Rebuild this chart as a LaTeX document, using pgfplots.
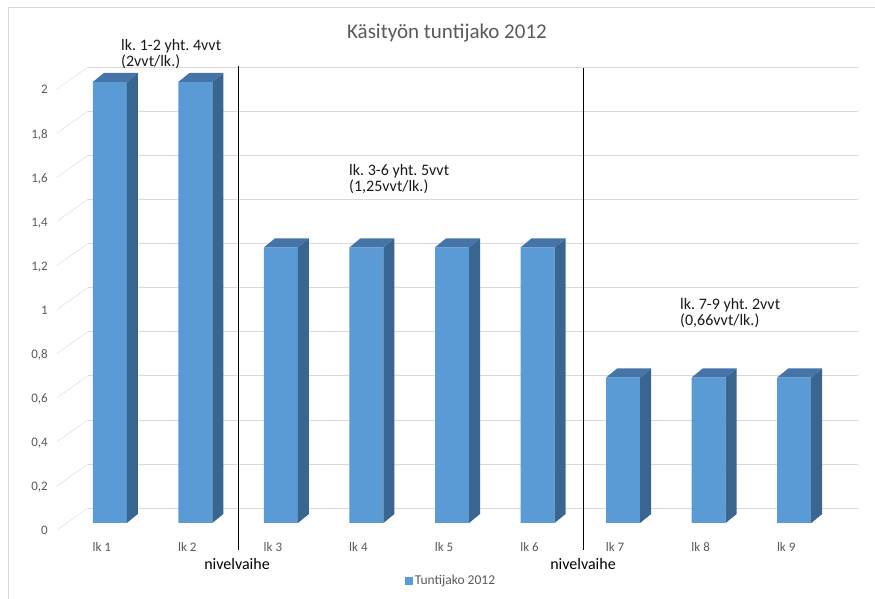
\documentclass[border=0pt]{standalone}
\usepackage{fontspec}
\setmainfont{Carlito}
\usepackage{pgfplots}
\pgfplotsset{compat=1.18}

\definecolor{barfront}{HTML}{5B9BD5}
\definecolor{barside}{HTML}{386690}
\definecolor{bartop}{HTML}{4575A8}
\definecolor{gridc}{HTML}{D9D9D9}
\definecolor{txt}{HTML}{595959}

% side and top face of a 3d column, drawn at the top of each bar
% (\rawy is the bar value, 220.5pt is one unit on the y axis)
\pgfdeclareplotmark{colside}{%
  \pgfmathsetmacro\h{\rawy*220.5}%
  \pgfsetfillcolor{barside}%
  \pgfpathmoveto{\pgfpoint{17pt}{0pt}}%
  \pgfpathlineto{\pgfpoint{28pt}{9pt}}%
  \pgfpathlineto{\pgfpoint{28pt}{9pt-\h pt}}%
  \pgfpathlineto{\pgfpoint{17pt}{-\h pt}}%
  \pgfpathclose
  \pgfusepath{fill}%
  \pgfsetfillcolor{bartop}%
  \pgfpathmoveto{\pgfpoint{-17pt}{0pt}}%
  \pgfpathlineto{\pgfpoint{17pt}{0pt}}%
  \pgfpathlineto{\pgfpoint{28pt}{9pt}}%
  \pgfpathlineto{\pgfpoint{-6pt}{9pt}}%
  \pgfpathclose
  \pgfusepath{fill}%
}

\begin{document}
\frenchspacing
\begin{tikzpicture}[x=1pt,y=1pt]
\path[use as bounding box] (0,0) rectangle (875,599);
% chart frame
\draw[gridc] (8,592) -- (875,592);
\draw[gridc] (8,592) -- (8,0);

\begin{axis}[
  at={(67pt,76pt)}, anchor=south west,
  scale only axis, width=770pt, height=441pt,
  xmin=0.5, xmax=9.5, ymin=0, ymax=2,
  clip=false,
  axis line style={draw=none},
  tick style={draw=none},
  xtick={1,2,3,4,5,6,7,8,9},
  xticklabels={lk 1,lk 2,lk 3,lk 4,lk 5,lk 6,lk 7,lk 8,lk 9},
  ytick={0,0.2,0.4,0.6,0.8,1,1.2,1.4,1.6,1.8,2},
  /pgf/number format/assume math mode=true,
  /pgf/number format/use comma,
  ticklabel style={font=\fontsize{13}{15}\selectfont, text=txt, inner sep=0pt},
  xticklabel style={anchor=base, yshift=-29pt, xshift=-8pt},
  yticklabel style={anchor=base east, xshift=-19pt, yshift=-12pt,
    /pgf/number format/.cd, fixed, precision=1},
  ymajorgrids,
  major grid style={gridc, xshift=21pt, yshift=15pt},
  legend style={at={(0.4987,-0.1315)}, anchor=center, draw=none, fill=none,
    font=\fontsize{13.5}{15}\selectfont, text=txt},
]
% side wall lines
\pgfplotsinvokeforeach{0,0.2,0.4,0.6,0.8,1,1.2,1.4,1.6,1.8,2}{
  \draw[gridc] ([xshift=-10pt,yshift=-7pt]axis cs:0.5,#1) -- ([xshift=21pt,yshift=15pt]axis cs:0.5,#1);
}
% front of the bars
\addplot[ybar, bar width=34pt, bar shift=0pt, fill=barfront, draw=none,
  legend image code/.code={\fill[barfront] (0pt,-4pt) rectangle (8pt,4pt);}]
  coordinates {(1,2) (2,2) (3,1.25) (4,1.25) (5,1.25) (6,1.25) (7,0.66) (8,0.66) (9,0.66)};
\addlegendentry{Tuntijako 2012}
% depth of the bars
\addplot[only marks, mark=colside, forget plot, visualization depends on={y \as \rawy}]
  coordinates {(1,2) (2,2) (3,1.25) (4,1.25) (5,1.25) (6,1.25) (7,0.66) (8,0.66) (9,0.66)};
\end{axis}

% title
\node[text=txt, font=\fontsize{21}{24}\selectfont] at (447,566) {Käsityön tuntijako 2012};

% group notes
\begin{scope}[every node/.style={anchor=base west, inner sep=0pt, text=black!90, font=\fontsize{16}{18}\selectfont}]
\node at (121,548) {lk. 1-2 yht. 4vvt};
\node at (121,532) {(2vvt/lk.)};
\node at (349,423) {lk. 3-6 yht. 5vvt};
\node at (349,407) {(1,25vvt/lk.)};
\node at (680,289) {lk. 7-9 yht. 2vvt};
\node at (680,273) {(0,66vvt/lk.)};
\end{scope}

% phase separators
\draw[black, line width=1pt] (238,533) -- (238,49);
\draw[black, line width=1pt] (583,531) -- (583,49);
\node[anchor=base, inner sep=0pt, font=\fontsize{16}{18}\selectfont] at (237,29) {nivelvaihe};
\node[anchor=base, inner sep=0pt, font=\fontsize{16}{18}\selectfont] at (583,29) {nivelvaihe};
\end{tikzpicture}
\end{document}
